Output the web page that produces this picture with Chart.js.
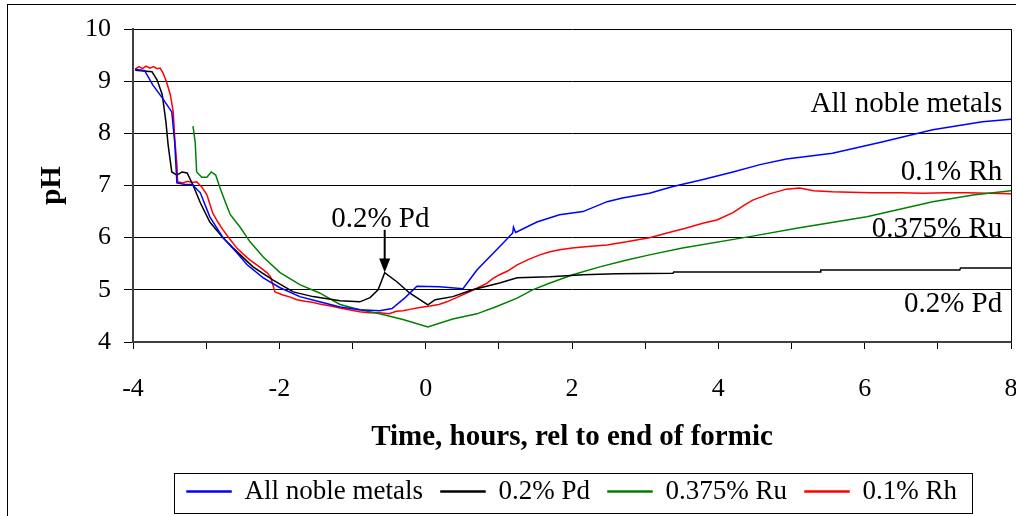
<!DOCTYPE html>
<html>
<head>
<meta charset="utf-8">
<script src="https://cdn.jsdelivr.net/npm/chart.js@4.4.1/dist/chart.umd.min.js"></script>
<style>
  html, body { margin: 0; padding: 0; background: #fff; }
  canvas { display: block; }
</style>
</head>
<body>
<canvas id="phChart" width="1016" height="516"></canvas>
<script>
// pH readings, [hours relative to end of formic, pH]
const nobleReadings = [
    [-3.97, 9.23], [-3.84, 9.20], [-3.73, 8.93], [-3.60, 8.68], [-3.47, 8.41], [-3.43, 7.83],
    [-3.40, 7.05], [-3.29, 7.02], [-3.19, 7.02], [-3.08, 6.86], [-2.95, 6.40], [-2.77, 6.00],
    [-2.58, 5.71], [-2.44, 5.48], [-2.22, 5.23], [-1.99, 5.04], [-1.72, 4.87], [-1.45, 4.77],
    [-1.17, 4.67], [-0.90, 4.62], [-0.63, 4.60], [-0.46, 4.64], [-0.28, 4.85], [-0.12, 5.07],
    [0.19, 5.06], [0.51, 5.02], [0.70, 5.38], [0.97, 5.77], [1.19, 6.09], [1.20, 6.20],
    [1.23, 6.10], [1.52, 6.30], [1.83, 6.44], [2.15, 6.50], [2.48, 6.69], [2.69, 6.76],
    [3.06, 6.85], [3.38, 6.98], [3.75, 7.10], [4.20, 7.26], [4.57, 7.40], [4.93, 7.51],
    [5.56, 7.62], [6.25, 7.84], [6.93, 8.07], [7.61, 8.22], [8.00, 8.27]
];
const pdReadings = [
    [-3.97, 9.21], [-3.74, 9.18], [-3.67, 9.02], [-3.60, 8.74], [-3.55, 8.22], [-3.52, 7.78],
    [-3.47, 7.26], [-3.40, 7.20], [-3.33, 7.26], [-3.26, 7.24], [-3.18, 7.01], [-3.08, 6.67],
    [-2.95, 6.30], [-2.77, 6.00], [-2.63, 5.80], [-2.36, 5.44], [-2.09, 5.19], [-1.81, 4.96],
    [-1.54, 4.87], [-1.17, 4.79], [-0.90, 4.77], [-0.76, 4.85], [-0.65, 5.00], [-0.56, 5.33],
    [-0.39, 5.15], [-0.22, 4.94], [0.03, 4.71], [0.13, 4.81], [0.37, 4.87], [0.64, 5.00],
    [1.01, 5.13], [1.25, 5.23], [1.70, 5.25], [2.15, 5.29], [2.61, 5.31], [3.38, 5.32],
    [3.39, 5.34], [5.39, 5.34], [5.40, 5.38], [7.30, 5.38], [7.31, 5.42], [8.00, 5.42]
];
const ruReadings = [
    [-3.18, 8.14], [-3.15, 7.83], [-3.13, 7.26], [-3.06, 7.16], [-2.99, 7.16], [-2.93, 7.26],
    [-2.87, 7.20], [-2.81, 6.95], [-2.74, 6.69], [-2.67, 6.44], [-2.54, 6.21], [-2.40, 5.92],
    [-2.22, 5.63], [-1.99, 5.33], [-1.72, 5.10], [-1.45, 4.94], [-1.17, 4.72], [-0.90, 4.62],
    [-0.63, 4.54], [-0.31, 4.43], [0.03, 4.29], [0.37, 4.44], [0.70, 4.54], [0.97, 4.68],
    [1.25, 4.84], [1.46, 5.00], [1.70, 5.13], [2.01, 5.29], [2.38, 5.44], [2.75, 5.57],
    [3.06, 5.67], [3.51, 5.80], [4.43, 6.02], [5.11, 6.19], [6.03, 6.40], [6.93, 6.69],
    [7.48, 6.82], [8.00, 6.90]
];
const rhReadings = [
    [-3.97, 9.23], [-3.92, 9.28], [-3.87, 9.24], [-3.82, 9.29], [-3.77, 9.25], [-3.72, 9.28],
    [-3.67, 9.24], [-3.63, 9.25], [-3.59, 9.16], [-3.54, 8.98], [-3.49, 8.74], [-3.45, 8.41],
    [-3.43, 7.91], [-3.40, 7.39], [-3.39, 7.07], [-3.32, 7.05], [-3.25, 7.08], [-3.19, 7.06],
    [-3.13, 7.07], [-3.06, 6.97], [-2.99, 6.82], [-2.91, 6.47], [-2.84, 6.30], [-2.77, 6.15],
    [-2.68, 5.98], [-2.58, 5.80], [-2.49, 5.68], [-2.40, 5.57], [-2.28, 5.45], [-2.17, 5.33],
    [-2.12, 5.25], [-2.06, 4.96], [-1.95, 4.90], [-1.85, 4.86], [-1.76, 4.81], [-1.65, 4.78],
    [-1.55, 4.76], [-1.45, 4.73], [-1.30, 4.69], [-1.17, 4.65], [-1.05, 4.62], [-0.90, 4.58],
    [-0.78, 4.56], [-0.63, 4.56], [-0.50, 4.54], [-0.40, 4.59], [-0.31, 4.60], [-0.20, 4.63],
    [-0.08, 4.66], [0.06, 4.69], [0.18, 4.72], [0.29, 4.77], [0.42, 4.85], [0.56, 4.94],
    [0.70, 5.03], [0.84, 5.13], [0.92, 5.22], [1.01, 5.29], [1.12, 5.36], [1.25, 5.48],
    [1.40, 5.58], [1.56, 5.67], [1.70, 5.73], [1.83, 5.77], [2.00, 5.80], [2.15, 5.82],
    [2.30, 5.84], [2.48, 5.86], [2.60, 5.89], [2.75, 5.92], [2.90, 5.96], [3.06, 6.00],
    [3.30, 6.09], [3.55, 6.18], [3.80, 6.28], [3.98, 6.34], [4.20, 6.48], [4.35, 6.62],
    [4.47, 6.72], [4.70, 6.84], [4.93, 6.93], [5.11, 6.95], [5.30, 6.90], [5.56, 6.88],
    [5.80, 6.87], [6.10, 6.86], [6.48, 6.86], [6.80, 6.85], [7.10, 6.86], [7.39, 6.86],
    [7.70, 6.85], [8.00, 6.84]
];

const seriesNames = ['All noble metals', '0.2% Pd', '0.375% Ru', '0.1% Rh'];
const seriesColors = ['#0000ff', '#000000', '#008000', '#ff0000'];
const seriesReadings = [nobleReadings, pdReadings, ruReadings, rhReadings];

// names written at the right-hand end of the curves
const endLabels = ['All noble metals', '0.1% Rh', '0.375% Ru', '0.2% Pd'];
const endLabelPH = [8.41, 7.11, 6.02, 4.58];
const endLabelHour = 7.88;

// callout pointing at the Pd peak
const calloutText = '0.2% Pd';
const calloutAt = [-0.62, 6.21];
const calloutArrowTop = 6.15;

const serif = '"Liberation Serif", "Times New Roman", serif';

const extras = {
    id: 'extras',
    afterDraw(chart) {
        const { ctx, chartArea: a, scales: { x, y } } = chart;
        ctx.save();
        ctx.strokeStyle = '#000';
        ctx.lineWidth = 1;

        // right side of the plot area
        ctx.beginPath();
        ctx.moveTo(Math.round(a.right) + 0.5, a.top);
        ctx.lineTo(Math.round(a.right) + 0.5, a.bottom);
        ctx.stroke();

        // outer frame
        ctx.strokeRect(7.5, 4.5, chart.width, chart.height);

        // frame around the legend
        const boxes = chart.legend.legendHitBoxes;
        const first = boxes[0], last = boxes[boxes.length - 1];
        const mid = first.top + first.height / 2;
        const l = Math.round(first.left - 13), r = Math.round(last.left + last.width + 15);
        const t = Math.round(mid - 19), b = Math.round(mid + 21);
        ctx.strokeRect(l + 0.5, t + 0.5, r - l, b - t);

        // curve names
        ctx.fillStyle = '#000';
        ctx.font = '29px ' + serif;
        ctx.textAlign = 'right';
        ctx.textBaseline = 'alphabetic';
        endLabels.forEach((txt, i) => {
            ctx.fillText(txt, x.getPixelForValue(endLabelHour), y.getPixelForValue(endLabelPH[i]));
        });

        // Pd peak callout with arrow
        ctx.textAlign = 'center';
        ctx.fillText(calloutText, x.getPixelForValue(calloutAt[0]), y.getPixelForValue(calloutAt[1]));
        const peak = pdReadings.filter(p => p[0] > -1 && p[0] < 0)
            .reduce((m, p) => (p[1] > m[1] ? p : m));
        const px = x.getPixelForValue(peak[0]);
        const tip = y.getPixelForValue(peak[1]);
        const top = y.getPixelForValue(calloutArrowTop);
        ctx.lineWidth = 2;
        ctx.beginPath();
        ctx.moveTo(px, top);
        ctx.lineTo(px, tip - 12);
        ctx.stroke();
        ctx.beginPath();
        ctx.moveTo(px - 5.5, tip - 14);
        ctx.lineTo(px + 5.5, tip - 14);
        ctx.lineTo(px, tip);
        ctx.closePath();
        ctx.fill();
        ctx.restore();
    }
};

new Chart(document.getElementById('phChart'), {
    type: 'line',
    data: {
        datasets: seriesReadings.map((rows, i) => ({
            label: seriesNames[i],
            data: rows.map(p => ({ x: p[0], y: p[1] })),
            borderColor: seriesColors[i],
            backgroundColor: seriesColors[i],
            borderWidth: 1.5,
            pointRadius: 0,
            tension: 0
        }))
    },
    options: {
        responsive: false,
        animation: false,
        layout: { padding: { top: 29, right: 5, bottom: 1, left: 0 } },
        plugins: {
            tooltip: { enabled: false },
            legend: {
                position: 'bottom',
                fullSize: false,
                labels: {
                    color: '#000',
                    font: { family: serif, size: 27 },
                    boxWidth: 44,
                    boxHeight: 1,
                    padding: 18
                }
            }
        },
        scales: {
            x: {
                type: 'linear',
                min: -4,
                max: 8,
                afterFit: s => {
                    s.height = 118;
                    s.paddingLeft = 0;
                    s.paddingRight = 0;
                },
                ticks: {
                    stepSize: 1,
                    autoSkip: false,
                    maxRotation: 0,
                    padding: 25,
                    color: '#000',
                    font: { family: serif, size: 26 },
                    callback: v => (v % 2 === 0 ? v : '')
                },
                grid: { drawOnChartArea: false, tickLength: 7, color: '#000' },
                border: { color: '#404040', width: 2 },
                title: {
                    display: true,
                    text: 'Time, hours, rel to end of formic',
                    color: '#000',
                    font: { family: serif, size: 29, weight: 'bold' },
                    padding: { top: 0, bottom: 5 }
                }
            },
            y: {
                min: 4,
                max: 10,
                afterFit: s => { s.width = 133; },
                ticks: {
                    stepSize: 0.5,
                    padding: 13,
                    color: '#000',
                    font: { family: serif, size: 26 },
                    callback: v => (Number.isInteger(v) ? v : '')
                },
                grid: {
                    color: c => (Number.isInteger(c.tick.value) ? '#000' : 'rgba(0,0,0,0)'),
                    tickColor: '#000',
                    tickLength: 9
                },
                border: { color: '#404040', width: 2 },
                title: {
                    display: true,
                    text: 'pH',
                    color: '#000',
                    font: { family: serif, size: 29, weight: 'bold' },
                    padding: { top: 35, bottom: 0 }
                }
            }
        }
    },
    plugins: [extras]
});
</script>
</body>
</html>
